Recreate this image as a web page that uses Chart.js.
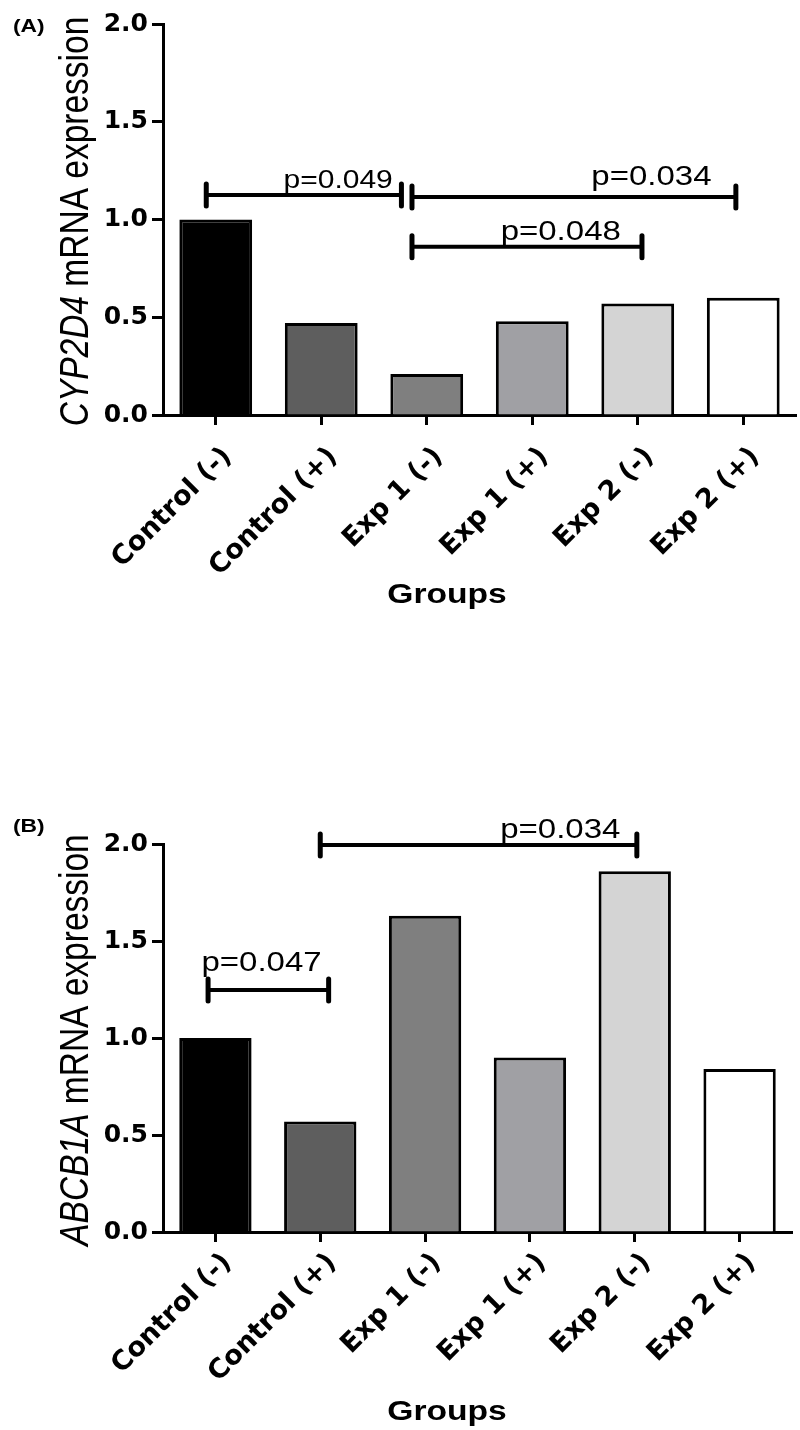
<!DOCTYPE html>
<html>
<head>
<meta charset="utf-8">
<script src="https://cdn.jsdelivr.net/npm/chart.js@4"></script>
<style>
    html, body { margin: 0; padding: 0; background: #fff; }
    #wrap { position: relative; width: 800px; height: 1430px; }
    canvas { position: absolute; left: 0; }
    #chartA { top: 0; }
    #chartB { top: 800px; }
</style>
</head>
<body>
<div id="wrap">
    <canvas id="chartA" width="800" height="620"></canvas>
    <canvas id="chartB" width="800" height="630"></canvas>
</div>
<script>
var groups = ['Control (-)', 'Control (+)', 'Exp 1 (-)', 'Exp 1 (+)', 'Exp 2 (-)', 'Exp 2 (+)'];
var barColors = ['#000000', '#5e5e5e', '#7f7f7f', '#a0a0a4', '#d4d4d4', '#ffffff'];
var cyp2d4 = [1.0, 0.47, 0.21, 0.48, 0.57, 0.60];
var abcb1a = [1.0, 0.57, 1.63, 0.90, 1.86, 0.84];
var yTicks = [0, 0.5, 1.0, 1.5, 2.0];

// significance brackets (from/to/tx = category index, y/ty = expression value)
var sigA = [
    {from: -0.09, to: 1.76, y: 1.125, text: 'p=0.049', tx: 1.16, ty: 1.161, size: 25},
    {from: 1.86, to: 4.93, y: 1.115, text: 'p=0.034', tx: 4.13, ty: 1.176, size: 27.5},
    {from: 1.86, to: 4.04, y: 0.86, text: 'p=0.048', tx: 3.27, ty: 0.895, size: 27.5}
];
var sigB = [
    {from: -0.07, to: 1.08, y: 1.247, text: 'p=0.047', tx: 0.44, ty: 1.345, size: 27.5},
    {from: 1.00, to: 4.02, y: 1.995, text: 'p=0.034', tx: 3.29, ty: 2.031, size: 27.5}
];

Chart.defaults.font.family = '"DejaVu Sans", sans-serif';
Chart.defaults.color = '#000';

// the original figure is stretched sideways, so text drawn here gets the same stretch
function wideText(ctx, s, px, py, font, align) {
    ctx.save();
    ctx.translate(px, py);
    ctx.scale(1.2, 1);
    ctx.font = font;
    ctx.textAlign = align;
    ctx.textBaseline = 'alphabetic';
    ctx.fillText(s, 0, 0);
    ctx.restore();
}

var figurePlugin = {
    id: 'figure',
    afterDraw: function (chart, args, opts) {
        var ctx = chart.ctx, xs = chart.scales.x, ys = chart.scales.y, area = chart.chartArea;
        ctx.save();
        ctx.fillStyle = '#000';
        ctx.strokeStyle = '#000';

        wideText(ctx, opts.panel, 13, 32, 'bold 19px "Liberation Sans"', 'left');

        opts.brackets.forEach(function (b) {
            var x1 = xs.getPixelForValue(b.from), x2 = xs.getPixelForValue(b.to), py = ys.getPixelForValue(b.y);
            ctx.lineWidth = 4;
            ctx.lineCap = 'butt';
            ctx.beginPath();
            ctx.moveTo(x1, py);
            ctx.lineTo(x2, py);
            ctx.stroke();
            ctx.lineWidth = 5;
            ctx.lineCap = 'round';
            [x1, x2].forEach(function (px) {
                ctx.beginPath();
                ctx.moveTo(px, py - 11);
                ctx.lineTo(px, py + 11);
                ctx.stroke();
            });
            wideText(ctx, b.text, xs.getPixelForValue(b.tx), ys.getPixelForValue(b.ty), b.size + 'px "Liberation Sans"', 'center');
        });

        wideText(ctx, 'Groups', opts.groupsX, opts.groupsY, 'bold 28px "Liberation Sans"', 'center');

        // y title: gene name in italics
        var fItal = 'italic 33.5px "Liberation Sans"', fNorm = '33.5px "Liberation Sans"';
        ctx.translate(88, (area.top + area.bottom) / 2 + 2);
        ctx.rotate(-Math.PI / 2);
        ctx.scale(1, 1.2);
        ctx.textBaseline = 'alphabetic';
        ctx.textAlign = 'left';
        ctx.font = fItal;
        var w1 = ctx.measureText(opts.gene).width;
        ctx.font = fNorm;
        var w2 = ctx.measureText(' mRNA expression').width;
        var start = -(w1 + w2) / 2;
        ctx.font = fItal;
        ctx.fillText(opts.gene, start, 0);
        ctx.font = fNorm;
        ctx.fillText(' mRNA expression', start + w1, 0);
        ctx.restore();
    }
};

function makeChart(id, values, brackets, panel, gene, padTop, padRight, xHeight, labelPad, groupsY) {
    return new Chart(document.getElementById(id), {
        type: 'bar',
        data: {
            labels: groups,
            datasets: [{
                data: values,
                backgroundColor: barColors,
                borderColor: '#000',
                borderWidth: 3,
                barPercentage: 0.69,
                categoryPercentage: 1.0
            }]
        },
        options: {
            responsive: false,
            animation: false,
            layout: {padding: {top: padTop, right: padRight, left: 0, bottom: 0}},
            plugins: {
                legend: {display: false},
                tooltip: {enabled: false},
                figure: {panel: panel, gene: gene, brackets: brackets, groupsX: 447, groupsY: groupsY}
            },
            scales: {
                x: {
                    grid: {display: true, offset: false, drawOnChartArea: false, tickLength: 10, tickWidth: 3, tickColor: '#000'},
                    border: {display: true, color: '#000', width: 3},
                    ticks: {
                        autoSkip: false, minRotation: 45, maxRotation: 45, padding: labelPad, labelOffset: 12,
                        font: {size: 27, weight: 'bold'}
                    },
                    afterFit: function (scale) { scale.height = xHeight; }
                },
                y: {
                    min: 0,
                    max: 2,
                    grid: {display: true, drawOnChartArea: false, tickLength: 11, tickWidth: 3, tickColor: '#000'},
                    border: {display: true, color: '#000', width: 3},
                    ticks: {
                        padding: 4,
                        font: {size: 25, weight: 'bold'},
                        callback: function (v) { return Number(v).toFixed(1); }
                    },
                    afterBuildTicks: function (scale) {
                        scale.ticks = yTicks.map(function (v) { return {value: v}; });
                    },
                    afterFit: function (scale) { scale.width = 163; }
                }
            }
        },
        plugins: [figurePlugin]
    });
}

makeChart('chartA', cyp2d4, sigA, '(A)', 'CYP2D4', 24, 4, 205, 16, 603);
makeChart('chartB', abcb1a, sigB, '(B)', 'ABCB1A', 44, 8, 198, 5, 620);
</script>
</body>
</html>
